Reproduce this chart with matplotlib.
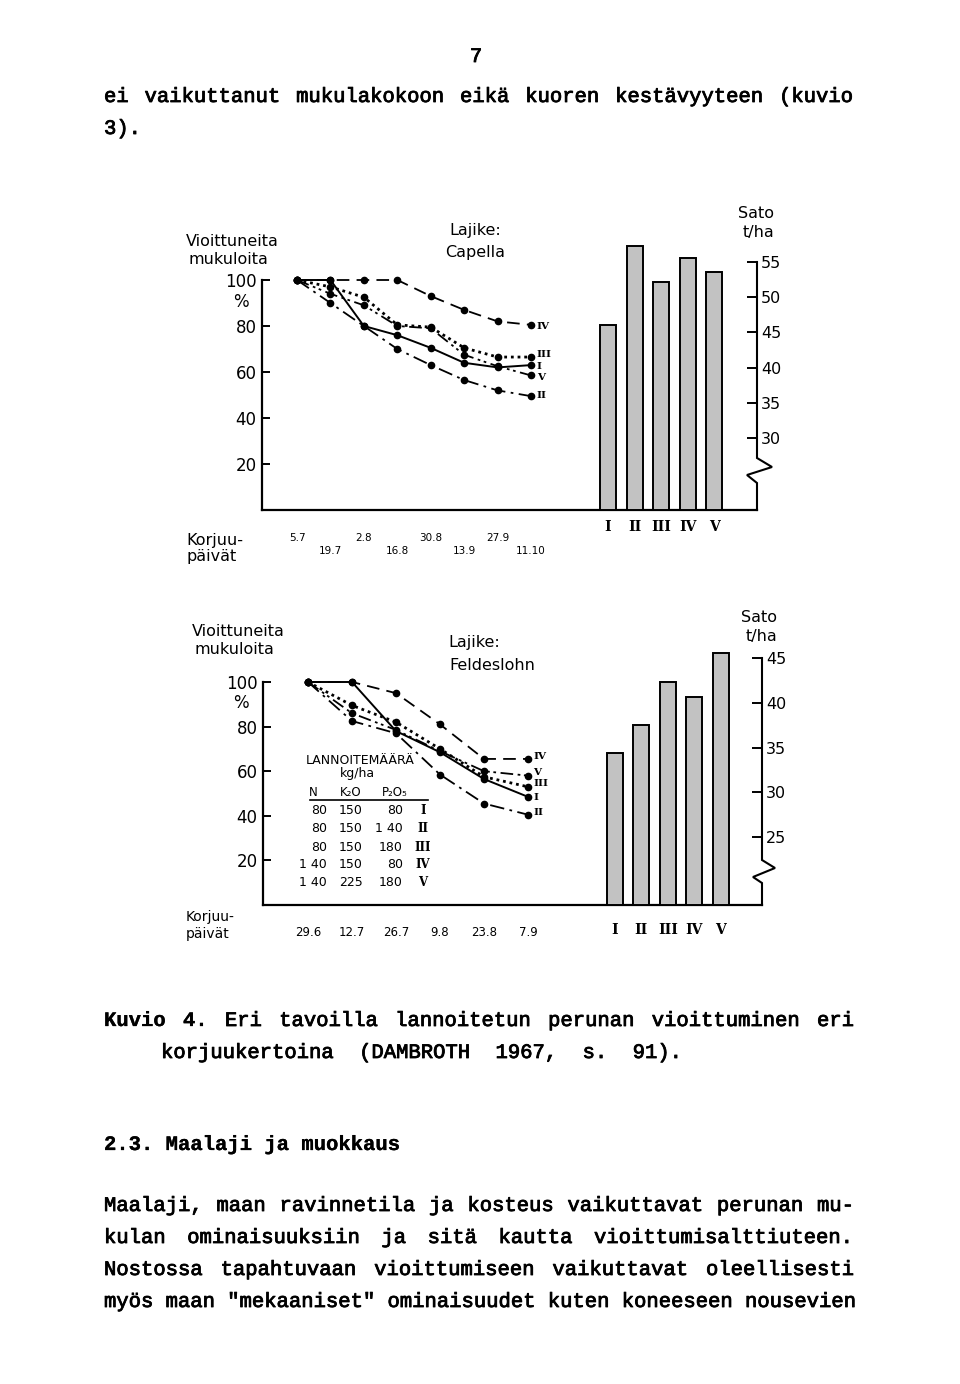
import matplotlib
matplotlib.use('Agg')
import matplotlib.pyplot as plt
from matplotlib.lines import Line2D
from matplotlib.transforms import blended_transform_factory as btf
import matplotlib.patheffects as pe

W, H = 960, 1384
SANS = ['DejaVu Sans']
MONO = ['Liberation Mono', 'DejaVu Sans Mono']
ROMAN = ['DejaVu Serif']
plt.rcParams['font.family'] = SANS

# ---------------- data ----------------
romans = ['I', 'II', 'III', 'IV', 'V']

capella_dates = ['5.7', '19.7', '2.8', '16.8', '30.8', '13.9', '27.9', '11.10']
capella_I = [100, 100, 80, 76, 70.5, 64, 62, 63]
capella_II = [100, 90, 80, 70, 63, 56.5, 52, 49.5]
capella_III = [100, 97, 92.5, 80.5, 79.5, 70.5, 66.5, 66.5]
capella_IV = [100, 100, 100, 100, 93, 87, 82, 80.5]
capella_V = [100, 94, 89, 80, 79, 67.5, 62.5, 58.5]
capella_label_y = [62.6, 50.0, 67.8, 79.6, 57.8]
capella_yield = [46.1, 57.3, 52.1, 55.6, 53.6]
capella_yticks = [30, 35, 40, 45, 50, 55]

feld_dates = ['29.6', '12.7', '26.7', '9.8', '23.8', '7.9']
feld_I = [100, 100, 78, 68.5, 56.5, 48.5]
feld_II = [100, 82.5, 77, 58.5, 45.5, 40.5]
feld_III = [100, 89.5, 82, 70, 57.5, 53]
feld_IV = [100, 100, 95, 81, 65.5, 65.5]
feld_V = [100, 86, 78.5, 69, 60, 58]
feld_label_y = [48.4, 41.7, 54.7, 66.8, 59.2]
feld_yield = [34.4, 37.5, 42.3, 40.6, 45.6]
feld_yticks = [25, 30, 35, 40, 45]

fert_N = ['80', '80', '80', '1 40', '1 40']
fert_K2O = ['150', '150', '150', '150', '225']
fert_P2O5 = ['80', '1 40', '180', '80', '180']

left_ticks = [20, 40, 60, 80, 100]

styles = ['-', (0, (8, 3, 1.5, 3)), (0, (1, 1.4)), (0, (7, 4)), (0, (7, 2.5, 1.5, 2, 1.5, 2.5))]
widths = [1.4, 1.3, 2.0, 1.3, 1.3]

fig = plt.figure(figsize=(W / 100, H / 100), dpi=100)


def R(x0, y0, x1, y1):
    return [x0 / W, 1 - y1 / H, (x1 - x0) / W, (y1 - y0) / H]


def ftxt(x, y, s, **kw):
    return fig.text(x / W, 1 - y / H, s, **kw)


def panel(left, top, bottom, right, bar_top, x0px, dxpx, dates, series, label_y, yields,
          yticks_r, bar_c0, bar_dx, r_ref_val, r_ref_px, r_ppu, zig, date_rows,
          date_fs, roman_pad, rtick_fs):
    ax = fig.add_axes(R(left, top, right, bottom))
    ax.patch.set_visible(False)
    for s in ['top', 'right']:
        ax.spines[s].set_visible(False)
    for s in ['left', 'bottom']:
        ax.spines[s].set_linewidth(1.6)
    ax.set_xticks([])
    ax.set_yticks(left_ticks)
    ax.set_yticklabels([str(t) for t in left_ticks])
    ax.tick_params(axis='y', direction='in', length=6, width=1.4, pad=4, labelsize=12)
    xs = list(range(len(dates)))
    for k, vals in enumerate(series):
        ax.plot(xs, vals, color='black', lw=widths[k], ls=styles[k], marker='o',
                ms=4.5, clip_on=False, zorder=3)
        ax.annotate(romans[k], xy=(xs[-1], label_y[k]), xytext=(4, 0),
                    textcoords='offset points', va='center', ha='left',
                    fontsize=7.5, family=ROMAN, fontweight='bold',
                    annotation_clip=False)
    ax.set_xlim((left - x0px) / dxpx, (right - x0px) / dxpx)
    ax.set_ylim(0, 100)
    hpx = bottom - top
    tr = btf(ax.transData, ax.transAxes)
    for i, d in enumerate(dates):
        ypx = date_rows[i % len(date_rows)]
        ax.text(i, (bottom - ypx) / hpx, d, transform=tr, ha='center', va='center',
                fontsize=date_fs)

    bx = fig.add_axes(R(left, bar_top, right, bottom))
    bx.patch.set_visible(False)
    lo = r_ref_val - (bottom - r_ref_px) / r_ppu
    hi = r_ref_val + (r_ref_px - bar_top) / r_ppu
    for s in bx.spines.values():
        s.set_visible(False)
    bx.bar(range(5), [v - lo for v in yields], bottom=lo, width=0.6,
           color='#c2c2c2', edgecolor='black', linewidth=1.4, clip_on=False, zorder=2)
    bx.set_xticks(range(5))
    bx.set_xticklabels(romans, fontfamily=ROMAN, fontweight='bold')
    bx.tick_params(axis='x', length=0, pad=roman_pad, labelsize=10)
    bx.yaxis.tick_right()
    bx.set_yticks(yticks_r)
    bx.set_yticklabels([str(t) for t in yticks_r])
    bx.tick_params(axis='y', direction='in', length=7, width=1.4, pad=3,
                   labelsize=rtick_fs)
    # right axis line with break
    wpx = right - left
    y_top, y_r, y_l, y_b, dx_r, dx_l = zig
    v = lambda ypx: r_ref_val - (ypx - r_ref_px) / r_ppu
    trr = btf(bx.transAxes, bx.transData)
    bx.plot([1, 1, 1 + dx_l / wpx, 1 + dx_r / wpx, 1, 1],
            [lo, v(y_b), v(y_l), v(y_r), v(y_top), max(yticks_r)],
            color='black', lw=1.5, transform=trr, clip_on=False,
            solid_joinstyle='miter')
    bx.set_xlim((left - bar_c0) / bar_dx, (right - bar_c0) / bar_dx)
    bx.set_ylim(lo, hi)
    return ax, bx


LFS = 11.5

# ---------------- top panel: Capella ----------------
panel(262, 280, 510, 757, 236, 297, 33.43, capella_dates,
      [capella_I, capella_II, capella_III, capella_IV, capella_V],
      capella_label_y, capella_yield, capella_yticks,
      608, 26.6, 30, 438, 7.04, (458, 467, 475, 483, 15, -10),
      [538, 551], 7.5, 7, 11.5)

ftxt(186, 242, 'Vioittuneita', fontsize=LFS, va='center')
ftxt(189, 259, 'mukuloita', fontsize=LFS, va='center')
ftxt(241, 302, '%', fontsize=12, va='center', ha='center')
ftxt(475, 231, 'Lajike:', fontsize=LFS, va='center', ha='center')
ftxt(475, 252, 'Capella', fontsize=LFS, va='center', ha='center')
ftxt(774, 213, 'Sato', fontsize=LFS, va='center', ha='right')
ftxt(774, 232, 't/ha', fontsize=LFS, va='center', ha='right')
ftxt(186, 540, 'Korjuu-', fontsize=LFS, va='center')
ftxt(186, 557, 'päivät', fontsize=LFS, va='center')

# ---------------- bottom panel: Feldeslohn ----------------
panel(263, 682, 905, 762, 640, 308, 44.0, feld_dates,
      [feld_I, feld_II, feld_III, feld_IV, feld_V],
      feld_label_y, feld_yield, feld_yticks,
      615, 26.4, 25, 837, 8.95, (860, 868, 877, 883, 13, -9),
      [932], 8.5, 13, 11.5)

ftxt(192, 632, 'Vioittuneita', fontsize=LFS, va='center')
ftxt(194, 650, 'mukuloita', fontsize=LFS, va='center')
ftxt(241, 703, '%', fontsize=12, va='center', ha='center')
ftxt(448, 643, 'Lajike:', fontsize=LFS, va='center')
ftxt(449, 665, 'Feldeslohn', fontsize=LFS, va='center')
ftxt(777, 618, 'Sato', fontsize=LFS, va='center', ha='right')
ftxt(777, 637, 't/ha', fontsize=LFS, va='center', ha='right')
ftxt(186, 917, 'Korjuu-', fontsize=10, va='center')
ftxt(186, 934, 'päivät', fontsize=10, va='center')

# fertiliser table
ftxt(360, 760, 'LANNOITEMÄÄRÄ', fontsize=9, va='center', ha='center')
ftxt(357, 774, 'kg/ha', fontsize=9, va='center', ha='center')
ftxt(313, 793, 'N', fontsize=8.5, va='center', ha='center')
ftxt(351, 793, 'K₂O', fontsize=8.5, va='center', ha='center')
ftxt(395, 793, 'P₂O₅', fontsize=8.5, va='center', ha='center')
fig.add_artist(Line2D([310 / W, 428 / W], [1 - 800 / H, 1 - 800 / H], color='black', lw=1.2))
row_y = [810, 828, 847, 864, 882]
for i in range(5):
    ftxt(327, row_y[i], fert_N[i], fontsize=9, va='center', ha='right')
    ftxt(363, row_y[i], fert_K2O[i], fontsize=9, va='center', ha='right')
    ftxt(403, row_y[i], fert_P2O5[i], fontsize=9, va='center', ha='right')
    ftxt(423, row_y[i], romans[i], fontsize=8.5, va='center', ha='center',
         family=ROMAN, fontweight='bold')

# ---------------- page text ----------------
FS = 14.8
CW = 0.6 * FS * 100 / 72
eff = [pe.withStroke(linewidth=0.6, foreground='black')]
eff_b = [pe.withStroke(linewidth=0.2, foreground='black')]


def mono(x, y, s, bold=False):
    ftxt(x, y, s, fontsize=FS, family=MONO, va='baseline', ha='left',
         fontweight='bold' if bold else 'normal', path_effects=eff_b if bold else eff)


def justify(words, x0, x1, y, nbold=0):
    total = sum(len(w) for w in words) * CW
    gap = (x1 - x0 - total) / (len(words) - 1)
    x = x0
    for i, w in enumerate(words):
        mono(x, y, w, bold=i < nbold)
        x += len(w) * CW + gap


ftxt(476, 62, '7', fontsize=FS, family=MONO, ha='center', va='baseline', path_effects=eff)
justify('ei vaikuttanut mukulakokoon eikä kuoren kestävyyteen (kuvio'.split(), 104, 853, 102)
mono(104, 134, '3).')
justify('Kuvio 4. Eri tavoilla lannoitetun perunan vioittuminen eri'.split(), 104, 854, 1026, nbold=2)
justify('korjuukertoina (DAMBROTH 1967, s. 91).'.split(), 161, 682, 1058)
mono(104, 1150, '2.3. Maalaji ja muokkaus', bold=True)
justify('Maalaji, maan ravinnetila ja kosteus vaikuttavat perunan mu-'.split(), 104, 854, 1211)
justify('kulan ominaisuuksiin ja sitä kautta vioittumisalttiuteen.'.split(), 104, 853, 1243)
justify('Nostossa tapahtuvaan vioittumiseen vaikuttavat oleellisesti'.split(), 104, 854, 1275)
justify('myös maan "mekaaniset" ominaisuudet kuten koneeseen nousevien'.split(), 104, 856, 1307)

fig.savefig('out.png', dpi=100)
